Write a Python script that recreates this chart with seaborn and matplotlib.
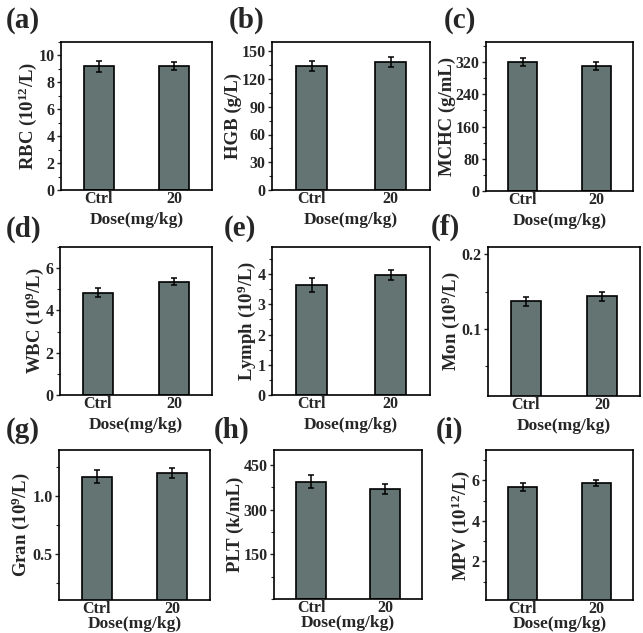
import matplotlib
matplotlib.use("Agg")
import matplotlib.pyplot as plt
import seaborn as sns
import pandas as pd
from matplotlib.ticker import MultipleLocator, FixedLocator

sns.set_style("ticks")
plt.rcParams["font.family"] = ["Liberation Serif", "DejaVu Serif"]
plt.rcParams["font.weight"] = "bold"
plt.rcParams["mathtext.fontset"] = "custom"
plt.rcParams["mathtext.rm"] = "Liberation Serif:bold"
plt.rcParams["mathtext.it"] = "Liberation Serif:bold"
plt.rcParams["mathtext.bf"] = "Liberation Serif:bold"

groups = ["Ctrl", "20"]
rbc = [9.2, 9.25]
rbc_err = [0.4, 0.3]
hgb = [134, 138.5]
hgb_err = [5, 5]
mchc = [321, 310]
mchc_err = [10, 10]
wbc = [4.84, 5.36]
wbc_err = [0.2, 0.16]
lymph = [3.64, 3.97]
lymph_err = [0.22, 0.16]
mon = [0.137, 0.144]
mon_err = [0.006, 0.006]
gran = [1.17, 1.20]
gran_err = [0.055, 0.045]
plt_vals = [393, 370]
plt_err = [22, 17]
mpv = [5.69, 5.87]
mpv_err = [0.2, 0.17]

panels = [
    ("(a)", "RBC (10$^{12}$/L)", rbc, rbc_err, (0, 11), 2, 1, None),
    ("(b)", "HGB (g/L)", hgb, hgb_err, (0, 160), 30, 15, None),
    ("(c)", "MCHC (g/mL)", mchc, mchc_err, (0, 370), 80, 40, None),
    ("(d)", "WBC (10$^{9}$/L)", wbc, wbc_err, (0, 7), 2, 1, None),
    ("(e)", "Lymph (10$^{9}$/L)", lymph, lymph_err, (0, 4.9), 1, 0.5, None),
    ("(f)", "Mon (10$^{9}$/L)", mon, mon_err, (0.01, 0.21), 0.1, 0.05, [0.1, 0.2]),
    ("(g)", "Gran (10$^{9}$/L)", gran, gran_err, (0.1, 1.4), 0.5, 0.25, [0.5, 1.0]),
    ("(h)", "PLT (k/mL)", plt_vals, plt_err, (0, 500), 150, 75, [150, 300, 450]),
    ("(i)", "MPV (10$^{12}$/L)", mpv, mpv_err, (0.1, 7.5), 2, 1, [2, 4, 6]),
]

W, H = 643, 633
# axes boxes in pixels: left, top, right, bottom
boxes = [
    (61, 42, 212, 190), (272, 42, 430, 190), (486, 42, 633, 191),
    (60, 247, 212, 395), (272, 247, 430, 395), (488, 247, 640, 396),
    (59, 450, 210, 600), (274, 450, 422, 599), (486, 450, 633, 600),
]
label_pos = [
    (6, 20), (229, 20), (444, 20),
    (6, 229), (224, 229), (431, 227),
    (6, 430), (214, 430), (436, 430),
]

fig = plt.figure(figsize=(W / 100, H / 100), dpi=100)

for i, ((tag, ylab, vals, errs, ylim, major, minor, fixed), box, lp) in enumerate(
        zip(panels, boxes, label_pos)):
    l, t, r, b = box
    ax = fig.add_axes([l / W, 1 - b / H, (r - l) / W, (b - t) / H])
    df = pd.DataFrame({"Dose": groups, "val": vals})
    sns.barplot(data=df, x="Dose", y="val", color="#647472", saturation=1,
                width=0.4, edgecolor="black", linewidth=1.2, ax=ax)
    ax.errorbar(range(len(vals)), vals, yerr=errs, fmt="none", ecolor="black",
                elinewidth=1.1, capsize=2.5, capthick=1.1)
    ax.set_xlim(-0.5, len(vals) - 0.5)
    ax.set_ylim(*ylim)
    if fixed is not None:
        ax.yaxis.set_major_locator(FixedLocator(fixed))
    else:
        ax.yaxis.set_major_locator(MultipleLocator(major))
    ax.yaxis.set_minor_locator(MultipleLocator(minor))
    ax.tick_params(axis="y", which="major", length=3, width=1, labelsize=11.5,
                   direction="out", pad=1.5)
    ax.tick_params(axis="y", which="minor", length=2, width=0.8, direction="out")
    ax.tick_params(axis="x", length=0, labelsize=11.5, pad=1)
    for lab in ax.get_xticklabels() + ax.get_yticklabels():
        lab.set_fontweight("bold")
    for s in ax.spines.values():
        s.set_linewidth(1.2)
        s.set_color("black")
    ax.set_ylabel(ylab, fontsize=13.5, fontweight="bold", labelpad=0)
    ax.set_xlabel("Dose(mg/kg)", fontsize=12.5, fontweight="bold",
                  labelpad=3 if i < 6 else -1)
    fig.text(lp[0] / W, 1 - lp[1] / H, tag, fontsize=21, fontweight="bold",
             ha="left", va="center")

fig.savefig("out.png", dpi=100)
